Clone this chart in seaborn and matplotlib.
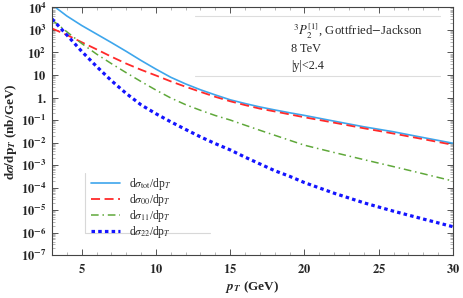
import numpy as np
import pandas as pd
import matplotlib
matplotlib.use('Agg')
import matplotlib.pyplot as plt
import seaborn as sns
from matplotlib.ticker import LogLocator, FixedLocator, MultipleLocator, NullFormatter

# p_T grid (GeV)
pt = [3, 4, 5, 6, 7, 8, 9, 10, 11, 12, 13, 14, 15, 16, 17, 18, 19, 20, 22, 24, 26, 28, 30]

# d sigma / d p_T  (nb/GeV)
sig_tot = [13200, 4170, 1580, 660, 275, 112, 44, 18.2, 7.9, 4.0, 2.2, 1.3, 0.79, 0.54, 0.38,
           0.28, 0.21, 0.16, 0.089, 0.050, 0.030, 0.0166, 0.0093]
sig_00 = [1170, 600, 285, 138, 65, 32, 17.0, 9.5, 5.2, 3.0, 1.78, 1.07, 0.68, 0.46, 0.32,
          0.24, 0.178, 0.132, 0.076, 0.043, 0.025, 0.0141, 0.0079]
sig_11 = [2800, 830, 250, 85, 32, 12.6, 5.1, 2.14, 0.95, 0.48, 0.27, 0.158, 0.10, 0.059,
          0.035, 0.021, 0.0126, 0.0076, 0.0036, 0.00174, 0.00085, 0.00041, 0.000195]
sig_22 = [3100, 600, 112, 24, 5.6, 1.51, 0.47, 0.19, 0.083, 0.038, 0.0178, 0.0089, 0.0047,
          0.00224, 0.00112, 0.00056, 0.000316, 0.000166, 5.6e-5, 2.1e-5, 8.9e-6, 4.0e-6, 1.82e-6]

labels = [r'd$\sigma_{\rm tot}$/dp$_T$', r'd$\sigma_{00}$/dp$_T$',
          r'd$\sigma_{11}$/dp$_T$', r'd$\sigma_{22}$/dp$_T$']
series = [sig_tot, sig_00, sig_11, sig_22]

colors = ['#3ea6ec', '#ff2a2a', '#5fa83a', '#1414ff']
dashes = ['', (5, 2.5), (5, 2.5, 1, 2.5), (1.1, 1.0)]
widths = [1.2, 1.3, 1.1, 2.3]

df = pd.concat([pd.DataFrame({'pt': pt, 'value': v, 'curve': lab})
                for v, lab in zip(series, labels)])

sns.set_style('ticks')
plt.rcParams['font.family'] = ['Liberation Serif', 'DejaVu Serif']
plt.rcParams['mathtext.fontset'] = 'stix'

fig = plt.figure(figsize=(4.63, 2.98), dpi=100)
ax = fig.add_axes([0.1123, 0.144, 0.866, 0.831])

for lab, c, d, w in zip(labels, colors, dashes, widths):
    sub = df[df['curve'] == lab]
    sns.lineplot(data=sub, x='pt', y='value', ax=ax, color=c, lw=w, label=lab)
    line = ax.lines[-1]
    if d:
        line.set_dashes(d)

ax.set_yscale('log')
ax.set_xlim(3, 30)
ax.set_ylim(1e-7, 1e4)

# ticks, Mathematica style
yt = [1e4, 1e3, 1e2, 10, 1, 0.1, 1e-2, 1e-3, 1e-4, 1e-5, 1e-6, 1e-7]
ytl = [r'$\mathbf{10^{4}}$', r'$\mathbf{10^{3}}$', r'$\mathbf{10^{2}}$', r'$\mathbf{10}$',
       r'$\mathbf{1.}$', r'$\mathbf{10^{-1}}$', r'$\mathbf{10^{-2}}$', r'$\mathbf{10^{-3}}$',
       r'$\mathbf{10^{-4}}$', r'$\mathbf{10^{-5}}$', r'$\mathbf{10^{-6}}$', r'$\mathbf{10^{-7}}$']
ax.yaxis.set_major_locator(FixedLocator(yt))
ax.set_yticklabels(ytl)
ax.yaxis.set_minor_locator(LogLocator(base=10, subs=np.arange(2, 10), numticks=20))
ax.yaxis.set_minor_formatter(NullFormatter())
ax.set_xticks([5, 10, 15, 20, 25, 30])
ax.set_xticklabels([r'$\mathbf{%d}$' % t for t in [5, 10, 15, 20, 25, 30]])
ax.xaxis.set_minor_locator(MultipleLocator(1))
ax.tick_params(which='both', direction='in', top=True, right=True, labelsize=9)
ax.tick_params(axis='x', pad=6)
ax.tick_params(axis='y', pad=4)
ax.tick_params(which='major', length=4.5, width=0.7, color='#555555')
ax.tick_params(which='minor', length=2.5, width=0.6, color='#aaaaaa')
for s in ax.spines.values():
    s.set_linewidth(0.8)
    s.set_color('#444444')

ax.set_xlabel(r'$\mathbfit{p}_{\mathbfit{T}}$ (GeV)', fontsize=9.5, fontweight='bold')
ax.set_ylabel(r'$\mathbf{d}\boldsymbol{\sigma}\mathbf{/dp}_{\mathbfit{T}}$ (nb/GeV)', fontsize=9.5,
              fontweight='bold')
ax.xaxis.set_label_coords(0.5, -0.097)
ax.yaxis.set_label_coords(-0.083, 0.5)

# annotation box
ax.text(0.923, 0.905, r'$^3P_2^{[1]}$, Gottfried$-$Jackson', transform=ax.transAxes, fontsize=9.2,
        va='center', ha='right')
ax.text(0.597, 0.833, '8 TeV', transform=ax.transAxes, fontsize=8.8, va='center', ha='left')
ax.text(0.597, 0.762, '|y|<2.4', transform=ax.transAxes, fontsize=8.8, va='center', ha='left')
for yy in [0.966, 0.723]:
    ax.plot([0.357, 0.968], [yy, yy], transform=ax.transAxes, color='#dddddd', lw=0.8)

leg = ax.legend(loc='upper left', bbox_to_anchor=(0.085, 0.338), frameon=False, fontsize=8.3,
                handlelength=2.5, handletextpad=0.8, labelspacing=0.0, borderaxespad=0)
ax.plot([0.082, 0.082, 0.394], [0.333, 0.089, 0.089], transform=ax.transAxes,
        color='#d8d8d8', lw=0.8)

fig.savefig('out.png', dpi=100)
